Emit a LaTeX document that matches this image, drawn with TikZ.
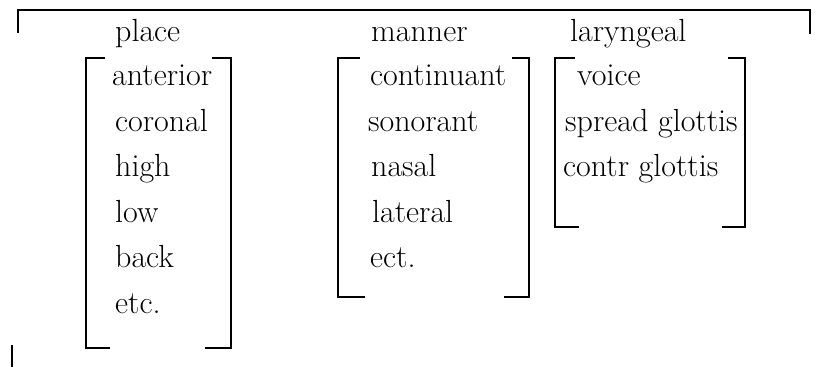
\documentclass[tikz,border=0pt]{standalone}
\begin{document}
\begin{tikzpicture}[x=1pt,y=-1pt,
  lbl/.style={anchor=base west,inner sep=0pt,font=\fontsize{32}{38}\selectfont},
  brk/.style={line width=1.6pt,line cap=butt}]
\useasboundingbox (0,0) rectangle (821,367);
% outer bracket
\draw[brk] (18,33) -- (18,10) -- (810,10) -- (810,34);
\draw[brk] (12,345) -- (12,367);
% headers
\node[lbl] (place) at (115,41) {place};
\node[lbl] (manner) at (371,41) {manner};
\node[lbl] (laryngeal) at (570,41) {laryngeal};
% place column
\node[lbl] (p1) at (112,85) {anterior};
\node[lbl] (p2) at (115,131) {coronal};
\node[lbl] (p3) at (115,176) {high};
\node[lbl] (p4) at (115,222) {low};
\node[lbl] (p5) at (115,267) {back};
\node[lbl] (p6) at (115,313) {etc.};
% manner column
\node[lbl] (m1) at (370,85) {continuant};
\node[lbl] (m2) at (368,131) {sonorant};
\node[lbl] (m3) at (371,176) {nasal};
\node[lbl] (m4) at (372,222) {lateral};
\node[lbl] (m5) at (370,267) {ect.};
% laryngeal column
\node[lbl] (l1) at (577,85) {voice};
\node[lbl] (l2) at (565,131) {spread glottis};
\node[lbl] (l3) at (563,176) {contr glottis};
% place bracket
\draw[brk] (105,58) -- (86,58) -- (86,348) -- (110,348);
\draw[brk] (212,58) -- (231,58) -- (231,348) -- (205,348);
% manner bracket
\draw[brk] (360,58) -- (338,58) -- (338,297) -- (365,297);
\draw[brk] (512,58) -- (529,58) -- (529,297) -- (504,297);
% laryngeal bracket
\draw[brk] (575,58) -- (555,58) -- (555,227) -- (579,227);
\draw[brk] (728,58) -- (745,58) -- (745,227) -- (722,227);
\end{tikzpicture}
\end{document}
